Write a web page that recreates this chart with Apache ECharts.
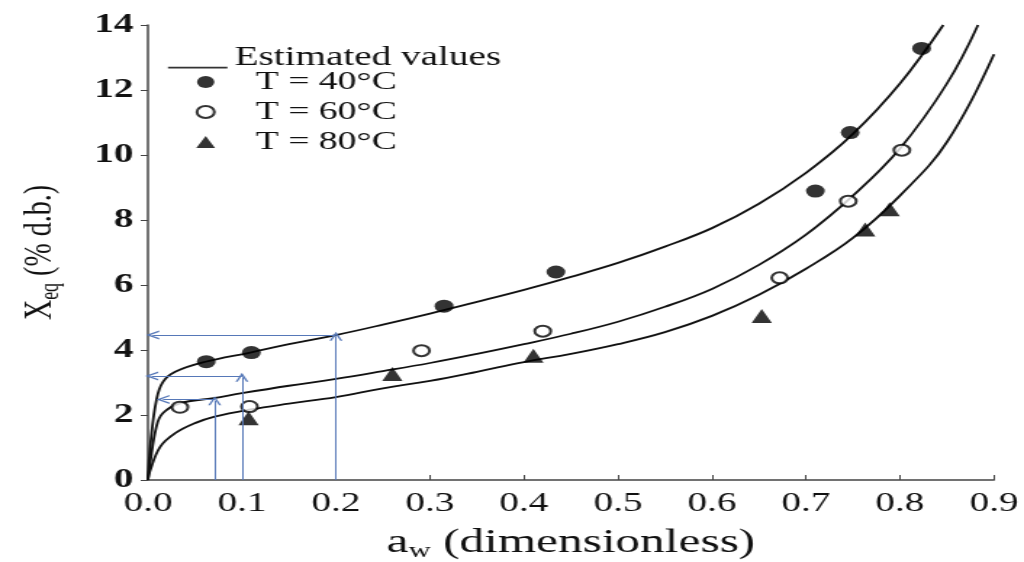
<!DOCTYPE html>
<html>
<head>
<meta charset="utf-8">
<script src="https://cdn.jsdelivr.net/npm/echarts@6/dist/echarts.min.js"></script>
<style>
  html, body { margin: 0; padding: 0; background: #fff; overflow: hidden; }
  /* the figure is laid out narrow and widened as a whole */
  #chart { width: 706px; height: 562px; transform: scaleX(1.450425); transform-origin: 0 0; }
</style>
</head>
<body>
<div id="chart"></div>
<script>
// Measured sorption points, water activity vs equilibrium moisture content
const aw40 = [0.062, 0.110, 0.315, 0.434, 0.710, 0.747, 0.823];
const xeq40 = [3.64, 3.92, 5.35, 6.40, 8.89, 10.69, 13.28];
const aw60 = [0.034, 0.108, 0.291, 0.420, 0.672, 0.745, 0.802];
const xeq60 = [2.24, 2.26, 3.98, 4.58, 6.22, 8.58, 10.15];
const aw80 = [0.107, 0.260, 0.410, 0.653, 0.763, 0.789];
const xeq80 = [1.90, 3.26, 3.82, 5.05, 7.71, 8.33];

// Model (estimated) isotherms
const fitAw40 = [0, 0.003, 0.009, 0.016, 0.029, 0.06, 0.11, 0.15, 0.2, 0.25, 0.3, 0.35, 0.4, 0.45, 0.5, 0.55, 0.6, 0.65, 0.7, 0.75, 0.8, 0.846];
const fitXeq40 = [0, 1.2, 2.46, 3.02, 3.33, 3.63, 3.93, 4.18, 4.46, 4.78, 5.12, 5.48, 5.85, 6.25, 6.68, 7.18, 7.75, 8.5, 9.45, 10.65, 12.2, 14.0];
const fitAw60 = [0, 0.002, 0.009, 0.016, 0.034, 0.07, 0.1, 0.15, 0.2, 0.25, 0.3, 0.35, 0.4, 0.45, 0.5, 0.55, 0.6, 0.65, 0.7, 0.75, 0.8, 0.85, 0.883];
const fitXeq60 = [0, 0.45, 1.64, 2.06, 2.36, 2.52, 2.67, 2.9, 3.11, 3.35, 3.6, 3.88, 4.18, 4.5, 4.87, 5.33, 5.88, 6.62, 7.55, 8.75, 10.2, 12.2, 14.0];
const fitAw80 = [0, 0.002, 0.013, 0.029, 0.05, 0.071, 0.109, 0.15, 0.2, 0.25, 0.3, 0.35, 0.4, 0.45, 0.5, 0.55, 0.6, 0.65, 0.7, 0.75, 0.8, 0.85, 0.9];
const fitXeq80 = [0, 0.26, 1.02, 1.44, 1.75, 1.95, 2.17, 2.35, 2.55, 2.82, 3.05, 3.33, 3.63, 3.88, 4.18, 4.55, 5.05, 5.7, 6.5, 7.45, 8.75, 10.4, 13.1];

// Read-off guides: [aw, Xeq reached, left end of the horizontal arrow]
const guideAw = [0.2, 0.1, 0.071];
const guideXeq = [4.46, 3.2, 2.48];
const guideLeft = [0.005, 0.004, 0.016];

const seriesNames = ['T = 40°C', 'T = 60°C', 'T = 80°C'];
const fitName = 'Estimated values';

const xTicks = { min: 0, max: 0.9, step: 0.1 };
const yTicks = { min: 0, max: 14, step: 2 };

const zip = (a, b) => a.map((v, i) => [v, b[i]]);
const serif = '"Liberation Serif", "Times New Roman", serif';
const ink = '#111';
const guideColor = '#5678b8';
const headPath = 'path://M0,10 L5,0 L10,10 L8.4,10 L5,3.2 L1.6,10 Z';
// legend swatch: a rule sitting at the foot of the item, text riding above it
const ruleIcon = 'path://M0,0 L0.01,0 L0.01,0.01 Z M0,20 L100,20 L100,21.6 L0,21.6 Z';

const guideLines = [];
guideAw.forEach((a, i) => {
  guideLines.push([{ coord: [a, 0] }, { coord: [a, guideXeq[i] - 0.04] }]);
  guideLines.push([{ coord: [a, guideXeq[i]] }, { coord: [guideLeft[i], guideXeq[i]] }]);
});

const fitSeries = [[fitAw40, fitXeq40], [fitAw60, fitXeq60], [fitAw80, fitXeq80]].map(([a, b]) => ({
  name: fitName,
  type: 'line',
  data: zip(a, b),
  smooth: 0.4,
  showSymbol: false,
  symbol: 'none',
  lineStyle: { color: ink, width: 1.8 },
  itemStyle: { color: ink },
  z: 3
}));

const chart = echarts.init(document.getElementById('chart'), null, { renderer: 'canvas' });
chart.setOption({
  animation: false,
  backgroundColor: '#fff',
  grid: { left: 102, right: 20.7, top: 25, bottom: 82, containLabel: false, outerBoundsMode: 'none' },
  legend: [
    {
      data: [{ name: fitName, icon: ruleIcon }],
      left: 115.8, top: 44, padding: 0,
      itemWidth: 41, itemHeight: 22, symbolKeepAspect: false,
      itemStyle: { color: '#333', borderWidth: 0 },
      lineStyle: { width: 0 },
      textStyle: { fontFamily: serif, fontSize: 27, color: ink, lineHeight: 26 },
      selectedMode: false
    },
    {
      data: seriesNames,
      left: 134.8, top: 67, padding: 0, orient: 'vertical', itemGap: 0,
      itemWidth: 13, itemHeight: 12,
      textStyle: { fontFamily: serif, fontSize: 26, color: ink, lineHeight: 30, padding: [0, 0, 0, 23] },
      selectedMode: false
    }
  ],
  xAxis: {
    type: 'value', min: xTicks.min, max: xTicks.max, interval: xTicks.step,
    name: '{m|a}{s|w}{m| (dimensionless)}',
    nameLocation: 'middle', nameGap: 44,
    nameTextStyle: {
      color: ink, fontFamily: serif, fontSize: 34,
      rich: {
        m: { fontFamily: serif, fontSize: 34, color: ink },
        s: { fontFamily: serif, fontSize: 21, color: ink, padding: [17, 0, 0, 0] }
      }
    },
    axisLine: { lineStyle: { color: '#444', width: 1.5 } },
    axisTick: { inside: true, length: 5, lineStyle: { color: '#444' } },
    axisLabel: { margin: 10, color: ink, fontFamily: serif, fontSize: 27, formatter: v => v.toFixed(1) },
    splitLine: { show: false }
  },
  yAxis: {
    type: 'value', min: yTicks.min, max: yTicks.max, interval: yTicks.step,
    name: '{m|X}{s|eq}{m| (% d.b.)}',
    nameLocation: 'middle', nameGap: 58,
    nameTextStyle: {
      color: ink, fontFamily: serif, fontSize: 28,
      rich: {
        m: { fontFamily: serif, fontSize: 28, color: ink },
        s: { fontFamily: serif, fontSize: 18, color: ink, padding: [15, 0, 0, 0] }
      }
    },
    axisLine: { show: true, lineStyle: { color: '#444', width: 1.5 } },
    axisTick: { show: true, inside: false, length: 5, lineStyle: { color: '#444' } },
    axisLabel: { margin: 10, color: ink, fontFamily: serif, fontSize: 27, fontWeight: 'bold' },
    splitLine: { show: false }
  },
  series: [
    ...fitSeries,
    {
      name: seriesNames[0], type: 'scatter', data: zip(aw40, xeq40),
      symbol: 'circle', symbolSize: 13, itemStyle: { color: '#000' }, z: 4
    },
    {
      name: seriesNames[1], type: 'scatter', data: zip(aw60, xeq60),
      symbol: 'circle', symbolSize: 11,
      itemStyle: { color: '#fff', borderColor: '#000', borderWidth: 2 }, z: 4
    },
    {
      name: seriesNames[2], type: 'scatter', data: zip(aw80, xeq80),
      symbol: 'triangle', symbolSize: 14, itemStyle: { color: '#000' }, z: 4
    },
    {
      name: 'guides', type: 'line', data: [], silent: true, z: 2,
      markLine: {
        silent: true, animation: false,
        symbol: ['none', headPath], symbolSize: [9, 9],
        label: { show: false },
        lineStyle: { color: guideColor, width: 1, type: 'solid' },
        emphasis: { disabled: true },
        data: guideLines
      }
    }
  ]
});
</script>
</body>
</html>
